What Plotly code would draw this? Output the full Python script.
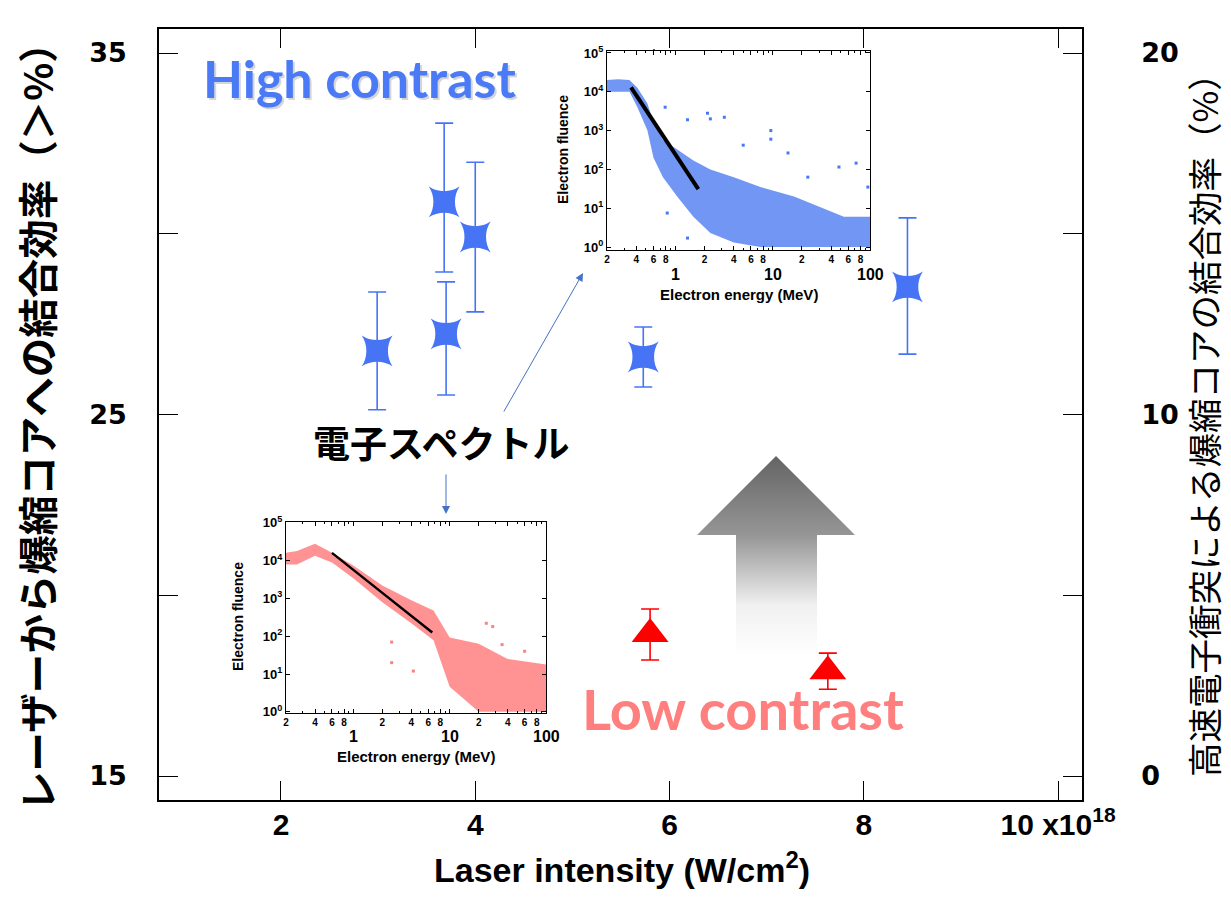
import math
import plotly.graph_objects as go

# ---------------- data ----------------
hc_intensity = [2.99, 3.68, 3.70, 4.00, 5.73, 8.45]          # x10^18 W/cm2
hc_coupling = [26.76, 30.88, 27.23, 29.91, 26.59, 28.53]     # left axis %
hc_err_up = [1.63, 2.18, 1.44, 2.07, 0.83, 1.91]
hc_err_down = [1.63, 1.94, 1.69, 2.07, 0.83, 1.86]

lc_intensity = [5.80, 7.63]
lc_coupling = [3.93, 2.90]                                    # right axis %
lc_err_up = [0.69, 0.50]
lc_err_down = [0.72, 0.50]

x_tick_vals = [2, 4, 6, 8, 10]
x_tick_text = ["2", "4", "6", "8", "10 x10<sup>18</sup>"]
y_left_vals = [15, 20, 25, 30, 35]
y_left_text = ["15", "", "25", "", "35"]
y_right_vals = [0, 5, 10, 15, 20]
y_right_text = ["0", "", "10", "", "20"]

# high-contrast electron spectrum (inset, blue): envelope of the point cloud
hc_energy = [0.2, 0.26, 0.34, 0.41, 0.52, 0.6, 0.75, 1.05, 1.54, 2.3, 4.0, 7.5, 16.6, 54, 100]
hc_upper = [2.0e4, 2.1e4, 2.0e4, 1.26e4, 5.0e3, 1.6e3, 5.8e2, 3.2e2, 1.7e2, 1.0e2, 63, 35, 20, 6, 6]
hc_lower = [1.0e4, 1.0e4, 1.0e4, 4.0e3, 1.0e3, 2.0e2, 63, 20, 6, 2.3, 1.3, 1, 1, 1, 1]
hc_out_e = [0.79, 1.34, 2.15, 2.3, 3.2, 9.6, 9.6, 5.0, 14.4, 23, 48, 72, 95, 0.83, 1.34]
hc_out_f = [4000, 1900, 2800, 2000, 2200, 1000, 600, 420, 265, 63, 115, 145, 35, 7.5, 1.7]
hc_fit_e = [0.353, 1.73]
hc_fit_f = [1.3e4, 31]

# low-contrast electron spectrum (inset, pink)
lc_energy = [0.2, 0.26, 0.4, 0.6, 1.0, 2.0, 4.0, 6.8, 10, 20, 40, 100]
lc_upper = [1.6e4, 1.8e4, 2.8e4, 1.6e4, 7.4e3, 2.2e3, 9.0e2, 4.8e2, 93, 63, 25, 18]
lc_lower = [7.9e3, 7.9e3, 1.35e4, 8.9e3, 3.4e3, 7.9e2, 2.2e2, 78, 4.6, 1, 1, 1]
lc_out_e = [2.5, 2.5, 4.2, 24, 28, 35, 60]
lc_out_f = [70, 20, 12, 220, 180, 60, 40]
lc_fit_e = [0.6, 2.0, 6.6]
lc_fit_f = [1.6e4, 1.4e3, 126]

inset_major_vals = [0.2, 0.4, 0.6, 0.8, 1, 2, 4, 6, 8, 10, 20, 40, 60, 80, 100]
inset_major_text = ["2", "4", "6", "8", "", "2", "4", "6", "8", "", "2", "4", "6", "8", ""]
inset_minor_vals = [0.3, 0.5, 0.7, 0.9, 3, 5, 7, 9, 30, 50, 70, 90]
inset_decades = ["1", "10", "100"]
inset_y_vals = [1, 10, 100, 1e3, 1e4, 1e5]
inset_y_text = ["10<sup>%d</sup>" % i for i in range(6)]

# ---------------- layout helpers ----------------
# the page body has an 8px margin, so the figure is drawn 8px smaller and all
# screen coordinates below are compensated for that offset
OFF = 8
W, H = 1231 - OFF, 917 - OFF
SL, SR, ST, SB = 159, 1082, 29, 800       # plot frame in screen pixels


def pxx(v):
    return (v - SL) / (SR - SL)


def pxy(v):
    return (SB - v) / (SB - ST)


BLUE = "#4674F5"
RED = "#FF0000"
SANS = "Liberation Sans Narrow, Arial Narrow, Liberation Sans, Arial"
CJK = "Noto Sans CJK JP"

fig = go.Figure()

# big gradient arrow (decoration, pixel-space overlay axes)
fig.add_trace(go.Scatter(
    x=[736, 736, 697, 776, 855, 817, 817, 736],
    y=[-655, -535, -535, -456, -535, -535, -655, -655],
    xaxis="x4", yaxis="y4", mode="lines", fill="toself",
    line=dict(width=0, color="rgba(0,0,0,0)"),
    fillgradient=dict(type="vertical", start=-655, stop=-456,
                      colorscale=[[0, "rgb(255,255,255)"], [0.25, "rgb(240,240,240)"],
                                  [0.6, "rgb(150,150,150)"], [1, "rgb(100,100,100)"]]),
    hoverinfo="skip", showlegend=False))

# blue block arrows inside the top inset
fig.add_trace(go.Scatter(
    x=[644, 644, 634, 654, 673, 663, 663, 644],
    y=[-91, -69, -69, -49, -69, -69, -91, -91],
    xaxis="x4", yaxis="y4", mode="lines", fill="toself", fillcolor="#4472C4",
    line=dict(width=1, color="#2F5597"), hoverinfo="skip", showlegend=False))
fig.add_trace(go.Scatter(
    x=[752, 752, 740, 763, 787, 773, 773, 752],
    y=[-158, -173, -173, -188, -173, -173, -158, -158],
    xaxis="x4", yaxis="y4", mode="lines", fill="toself", fillcolor="#4472C4",
    line=dict(width=1, color="#2F5597"), hoverinfo="skip", showlegend=False))

# main data
fig.add_trace(go.Scatter(
    x=hc_intensity, y=hc_coupling, mode="markers", xaxis="x", yaxis="y",
    marker=dict(symbol="star-square", size=28, color=BLUE, line=dict(width=0)),
    error_y=dict(type="data", array=hc_err_up, arrayminus=hc_err_down, symmetric=False,
                 color=BLUE, thickness=1.6, width=9),
    showlegend=False, name="High contrast"))
fig.add_trace(go.Scatter(
    x=lc_intensity, y=lc_coupling, mode="markers", xaxis="x", yaxis="y2",
    marker=dict(symbol="triangle-up", size=32, color=RED, line=dict(width=0)),
    error_y=dict(type="data", array=lc_err_up, arrayminus=lc_err_down, symmetric=False,
                 color=RED, thickness=1.6, width=9),
    showlegend=False, name="Low contrast"))

# top inset (blue spectrum)
fig.add_trace(go.Scatter(
    x=hc_energy + hc_energy[::-1], y=hc_upper + hc_lower[::-1], xaxis="x3", yaxis="y3",
    mode="lines", fill="toself", fillcolor="rgba(74,120,240,0.78)",
    line=dict(width=0, color="rgba(0,0,0,0)"), hoverinfo="skip", showlegend=False))
fig.add_trace(go.Scatter(
    x=hc_out_e, y=hc_out_f, xaxis="x3", yaxis="y3", mode="markers",
    marker=dict(symbol="square", size=3, color="rgb(74,120,240)"), showlegend=False))
fig.add_trace(go.Scatter(
    x=hc_fit_e, y=hc_fit_f, xaxis="x3", yaxis="y3", mode="lines",
    line=dict(color="black", width=4), showlegend=False))

# bottom inset (pink spectrum)
fig.add_trace(go.Scatter(
    x=lc_energy + lc_energy[::-1], y=lc_upper + lc_lower[::-1], xaxis="x5", yaxis="y5",
    mode="lines", fill="toself", fillcolor="rgba(255,128,128,0.85)",
    line=dict(width=0, color="rgba(0,0,0,0)"), hoverinfo="skip", showlegend=False))
fig.add_trace(go.Scatter(
    x=lc_out_e, y=lc_out_f, xaxis="x5", yaxis="y5", mode="markers",
    marker=dict(symbol="square", size=3, color="rgb(255,128,128)"), showlegend=False))
fig.add_trace(go.Scatter(
    x=lc_fit_e, y=lc_fit_f, xaxis="x5", yaxis="y5", mode="lines", line_shape="spline",
    line=dict(color="black", width=2.5), showlegend=False))


def inset_x(domain, anchor):
    return dict(type="log", domain=domain, anchor=anchor, range=[math.log10(0.2), 2],
                showline=True, linecolor="black", linewidth=1, mirror="ticks",
                ticks="inside", ticklen=4, tickwidth=1, tickcolor="black",
                tickvals=inset_major_vals, ticktext=inset_major_text,
                tickfont=dict(family=SANS, size=10, color="black", weight="bold"),
                minor=dict(ticks="inside", ticklen=2, tickvals=inset_minor_vals,
                           tickcolor="black", showgrid=False),
                showgrid=False, zeroline=False, ticklabelstandoff=0, automargin=False)


def inset_y(domain, anchor, rng):
    return dict(type="log", domain=domain, anchor=anchor, range=rng,
                showline=True, linecolor="black", linewidth=1, mirror="ticks",
                ticks="inside", ticklen=4, tickwidth=1, tickcolor="black",
                tickvals=inset_y_vals, ticktext=inset_y_text,
                tickfont=dict(family=SANS, size=13, color="black", weight="bold"),
                showgrid=False, zeroline=False, ticklabelstandoff=0, automargin=False)


annotations = []


def add_text(text, x, y, size, color="black", family=SANS, weight="bold", angle=0,
             xref="paper", yref="paper", xanchor="center", yanchor="middle"):
    annotations.append(dict(text=text, x=x, y=y, xref=xref, yref=yref, showarrow=False,
                            textangle=angle, xanchor=xanchor, yanchor=yanchor,
                            font=dict(family=family, size=size, color=color, weight=weight)))


# inset decade labels and titles
for i, d in enumerate(inset_decades):
    add_text(d, i, pxy(274), 16, xref="x3")
    add_text(d, i, pxy(736), 16, xref="x5")
add_text("Electron energy (MeV)", pxx(739), pxy(294), 15)
add_text("Electron energy (MeV)", pxx(416), pxy(756), 15)
add_text("Electron fluence", pxx(563), pxy(150), 14, angle=-90)
add_text("Electron fluence", pxx(238), pxy(617), 14, angle=-90)

# main texts
add_text("High contrast", pxx(361), pxy(80), 52, color="rgba(0,0,0,0.16)",
         family="Lato, Open Sans", weight="bold")
add_text("High contrast", pxx(359), pxy(78), 52, color="#4A7AF6",
         family="Lato, Open Sans", weight="bold")
add_text("Low contrast", pxx(743), pxy(708), 56, color="#FF7F7F",
         family="Lato, Open Sans", weight="bold")
add_text("電子スペクトル", pxx(441), pxy(442), 37, family=CJK, weight="bold")
add_text("Laser intensity (W/cm<sup>2</sup>)", pxx(622), pxy(868), 34)
add_text("レーザーから爆縮コアへの結合効率（＞%）", pxx(35), pxy(417), 39.5,
         family=CJK, weight="bold", angle=-90)
add_text("高速電子衝突による爆縮コアの結合効率（%）", pxx(1203), pxy(417), 34.5,
         family=CJK, weight="normal", angle=-90)

# thin blue pointer arrows
annotations.append(dict(x=583, y=-273, ax=503, ay=-413, xref="x4", yref="y4",
                        axref="x4", ayref="y4", text="", showarrow=True,
                        arrowhead=2, arrowsize=1.6, arrowwidth=1, arrowcolor="#4472C4"))
annotations.append(dict(x=446, y=-514, ax=446, ay=-473, xref="x4", yref="y4",
                        axref="x4", ayref="y4", text="", showarrow=True,
                        arrowhead=2, arrowsize=1.6, arrowwidth=1, arrowcolor="#4472C4"))

fig.update_layout(
    width=W, height=H,
    margin=dict(l=SL - OFF, r=W - (SR - OFF), t=ST - OFF, b=H - (SB - OFF), pad=0,
                autoexpand=False),
    paper_bgcolor="white", plot_bgcolor="white",
    showlegend=False,
    xaxis=dict(range=[0.744, 10.247], tickvals=x_tick_vals, ticktext=x_tick_text,
               ticks="inside", ticklen=19, tickwidth=1.3, tickcolor="black",
               showline=True, linecolor="black", linewidth=1.5, mirror="ticks",
               showgrid=False, zeroline=False, ticklabelstandoff=-3, automargin=False,
               tickfont=dict(family=SANS, size=30, color="black", weight="bold")),
    yaxis=dict(range=[14.336, 35.664], tickvals=y_left_vals, ticktext=y_left_text,
               ticks="inside", ticklen=19, tickwidth=1.3, tickcolor="black",
               showline=True, linecolor="black", linewidth=1.5, mirror=True,
               showgrid=False, zeroline=False, ticklabelstandoff=25, automargin=False,
               tickfont=dict(family="DejaVu Sans", size=27, color="black", weight="bold")),
    yaxis2=dict(range=[-0.664, 20.664], overlaying="y", side="right", anchor="x",
                tickvals=y_right_vals, ticktext=y_right_text,
                ticks="inside", ticklen=19, tickwidth=1.3, tickcolor="black",
                showline=True, linecolor="black", linewidth=1.5, automargin=False,
                showgrid=False, zeroline=False, ticklabelstandoff=52,
                tickfont=dict(family="DejaVu Sans", size=27, color="black", weight="bold")),
    xaxis3=inset_x([pxx(607), pxx(870)], "y3"),
    yaxis3=inset_y([pxy(250), pxy(51)], "x3", [-0.077, 5.05]),
    xaxis5=inset_x([pxx(286), pxx(546)], "y5"),
    yaxis5=inset_y([pxy(713), pxy(522)], "x5", [-0.03, 5.02]),
    xaxis4=dict(range=[SL, SR], overlaying="x", visible=False, fixedrange=True,
                automargin=False),
    yaxis4=dict(range=[-SB, -ST], overlaying="y", visible=False, fixedrange=True,
                automargin=False),
    annotations=annotations,
)

fig.write_html("out.html")
